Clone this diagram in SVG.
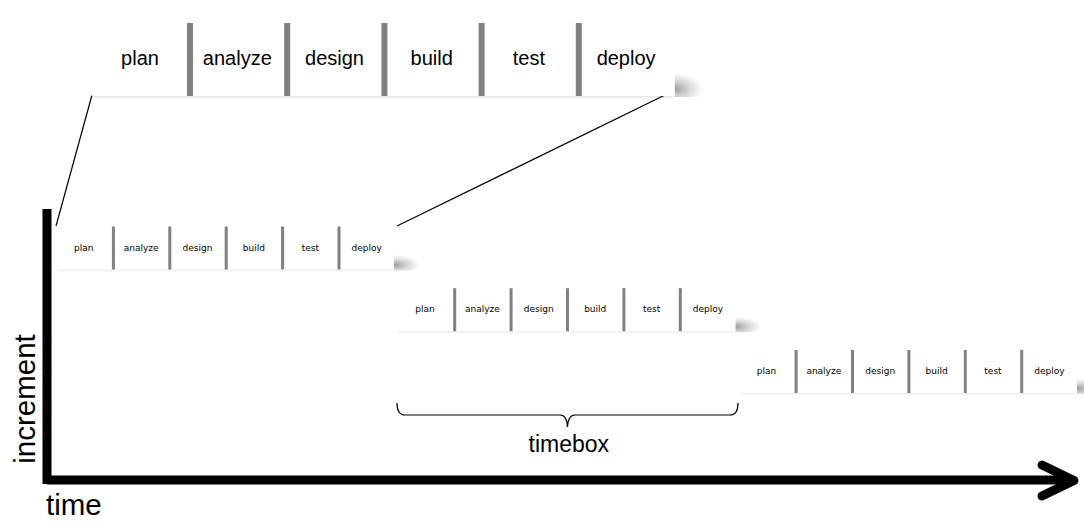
<svg xmlns="http://www.w3.org/2000/svg" width="1084" height="528" viewBox="0 0 1084 528">
<style>
.box{fill:#fff}
.edge{fill:#000;opacity:0.12;filter:url(#soft)}
.div{fill:#808080}
.big{font-family:"Liberation Sans",Arial,sans-serif;font-size:20px;fill:#000;text-anchor:middle}
.sm{font-family:"DejaVu Sans",Verdana,sans-serif;font-size:9px;fill:#000;text-anchor:middle}
.corner{fill:url(#rg)}
.conn{stroke:#000;stroke-width:1.2;fill:none}
.axis{stroke:#000;stroke-width:9;fill:none}
.lbl{font-family:"Liberation Sans",Arial,sans-serif;fill:#000}
</style>
<defs>
<filter id="soft" x="-5%" y="-200%" width="110%" height="500%">
<feGaussianBlur stdDeviation="0.8"/>
</filter>
<radialGradient id="rg">
<stop offset="0" stop-color="#000" stop-opacity="0.38"/>
<stop offset="0.5" stop-color="#000" stop-opacity="0.16"/>
<stop offset="1" stop-color="#000" stop-opacity="0"/>
</radialGradient>
<clipPath id="c0" clipPathUnits="userSpaceOnUse"><rect x="674.5" y="60" width="40" height="37"/></clipPath>
<clipPath id="c1" clipPathUnits="userSpaceOnUse"><rect x="394" y="240" width="35" height="30.5"/></clipPath>
<clipPath id="c2" clipPathUnits="userSpaceOnUse"><rect x="735.3" y="300" width="35" height="32.2"/></clipPath>
<clipPath id="c3" clipPathUnits="userSpaceOnUse"><rect x="1076.7" y="360" width="10" height="34"/></clipPath>
</defs>
<rect width="1084" height="528" fill="#fff"/>

<g id="connectors">
<line class="conn" x1="92" y1="95" x2="56" y2="226"/>
<line class="conn" x1="666" y1="94.5" x2="397" y2="226"/>
<path class="conn" d="M397,403 Q397,415 405,415 L560,415 Q567,415 567.5,427 Q568,415 575,415 L730,415 Q738,415 738,403" stroke-width="1.3"/>
<line class="axis" x1="47" y1="209" x2="47" y2="484"/>
<line class="axis" x1="47" y1="480" x2="1072" y2="480" stroke-width="10"/>
<polyline class="axis" points="1042,465 1074,480.5 1042,496" stroke-width="11" stroke-linecap="round" stroke-linejoin="round"/>
</g>

<g id="phases-detail">
<g clip-path="url(#c0)"><ellipse class="corner" cx="675" cy="89" rx="28" ry="16"/></g>
<rect class="edge" x="93" y="95" width="580" height="2.5"/>
<rect class="box" x="91.5" y="23" width="583" height="73"/>
<rect class="div" x="187" y="23" width="6" height="73"/>
<rect class="div" x="284.2" y="23" width="6" height="73"/>
<rect class="div" x="381.4" y="23" width="6" height="73"/>
<rect class="div" x="478.6" y="23" width="6" height="73"/>
<rect class="div" x="575.8" y="23" width="6" height="73"/>
<text class="big" x="140" y="65">plan</text>
<text class="big" x="237.3" y="65">analyze</text>
<text class="big" x="334.5" y="65">design</text>
<text class="big" x="431.7" y="65">build</text>
<text class="big" x="528.9" y="65">test</text>
<text class="big" x="626.1" y="65">deploy</text>
</g>

<g id="increment-1">
<g clip-path="url(#c1)"><ellipse class="corner" cx="395" cy="265" rx="25" ry="10"/></g>
<rect class="edge" x="57" y="268.5" width="336" height="2"/>
<rect class="box" x="55.5" y="226.5" width="338.5" height="43"/>
<rect class="div" x="111.9" y="226.5" width="3" height="43"/>
<rect class="div" x="168.3" y="226.5" width="3" height="43"/>
<rect class="div" x="224.7" y="226.5" width="3" height="43"/>
<rect class="div" x="281.1" y="226.5" width="3" height="43"/>
<rect class="div" x="337.5" y="226.5" width="3" height="43"/>
<text class="sm" x="83.7" y="250.5">plan</text>
<text class="sm" x="141.1" y="250.5">analyze</text>
<text class="sm" x="197.5" y="250.5">design</text>
<text class="sm" x="253.9" y="250.5">build</text>
<text class="sm" x="310.3" y="250.5">test</text>
<text class="sm" x="366.7" y="250.5">deploy</text>
</g>

<g id="increment-2">
<g clip-path="url(#c2)"><ellipse class="corner" cx="736.3" cy="326.7" rx="25" ry="10"/></g>
<rect class="edge" x="398.3" y="330.2" width="336" height="2"/>
<rect class="box" x="396.8" y="288.2" width="338.5" height="43"/>
<rect class="div" x="453.2" y="288.2" width="3" height="43"/>
<rect class="div" x="509.6" y="288.2" width="3" height="43"/>
<rect class="div" x="566" y="288.2" width="3" height="43"/>
<rect class="div" x="622.4" y="288.2" width="3" height="43"/>
<rect class="div" x="678.8" y="288.2" width="3" height="43"/>
<text class="sm" x="425" y="312">plan</text>
<text class="sm" x="482.4" y="312">analyze</text>
<text class="sm" x="538.8" y="312">design</text>
<text class="sm" x="595.2" y="312">build</text>
<text class="sm" x="651.6" y="312">test</text>
<text class="sm" x="708" y="312">deploy</text>
</g>

<g id="increment-3">
<g clip-path="url(#c3)"><ellipse class="corner" cx="1077.7" cy="388.5" rx="25" ry="10"/></g>
<rect class="edge" x="739.7" y="392" width="336" height="2"/>
<rect class="box" x="738.2" y="350" width="338.5" height="43"/>
<rect class="div" x="794.6" y="350" width="3" height="43"/>
<rect class="div" x="851" y="350" width="3" height="43"/>
<rect class="div" x="907.4" y="350" width="3" height="43"/>
<rect class="div" x="963.8" y="350" width="3" height="43"/>
<rect class="div" x="1020.2" y="350" width="3" height="43"/>
<text class="sm" x="766.4" y="374">plan</text>
<text class="sm" x="823.8" y="374">analyze</text>
<text class="sm" x="880.2" y="374">design</text>
<text class="sm" x="936.6" y="374">build</text>
<text class="sm" x="993" y="374">test</text>
<text class="sm" x="1049.4" y="374">deploy</text>
</g>

<g id="labels">
<text class="lbl" x="568.8" y="452" font-size="23" text-anchor="middle">timebox</text>
<text class="lbl" x="46" y="515" font-size="29.5">time</text>
<text class="lbl" font-size="29.5" text-anchor="middle" transform="translate(35,399) rotate(-90)">increment</text>
</g>
</svg>
